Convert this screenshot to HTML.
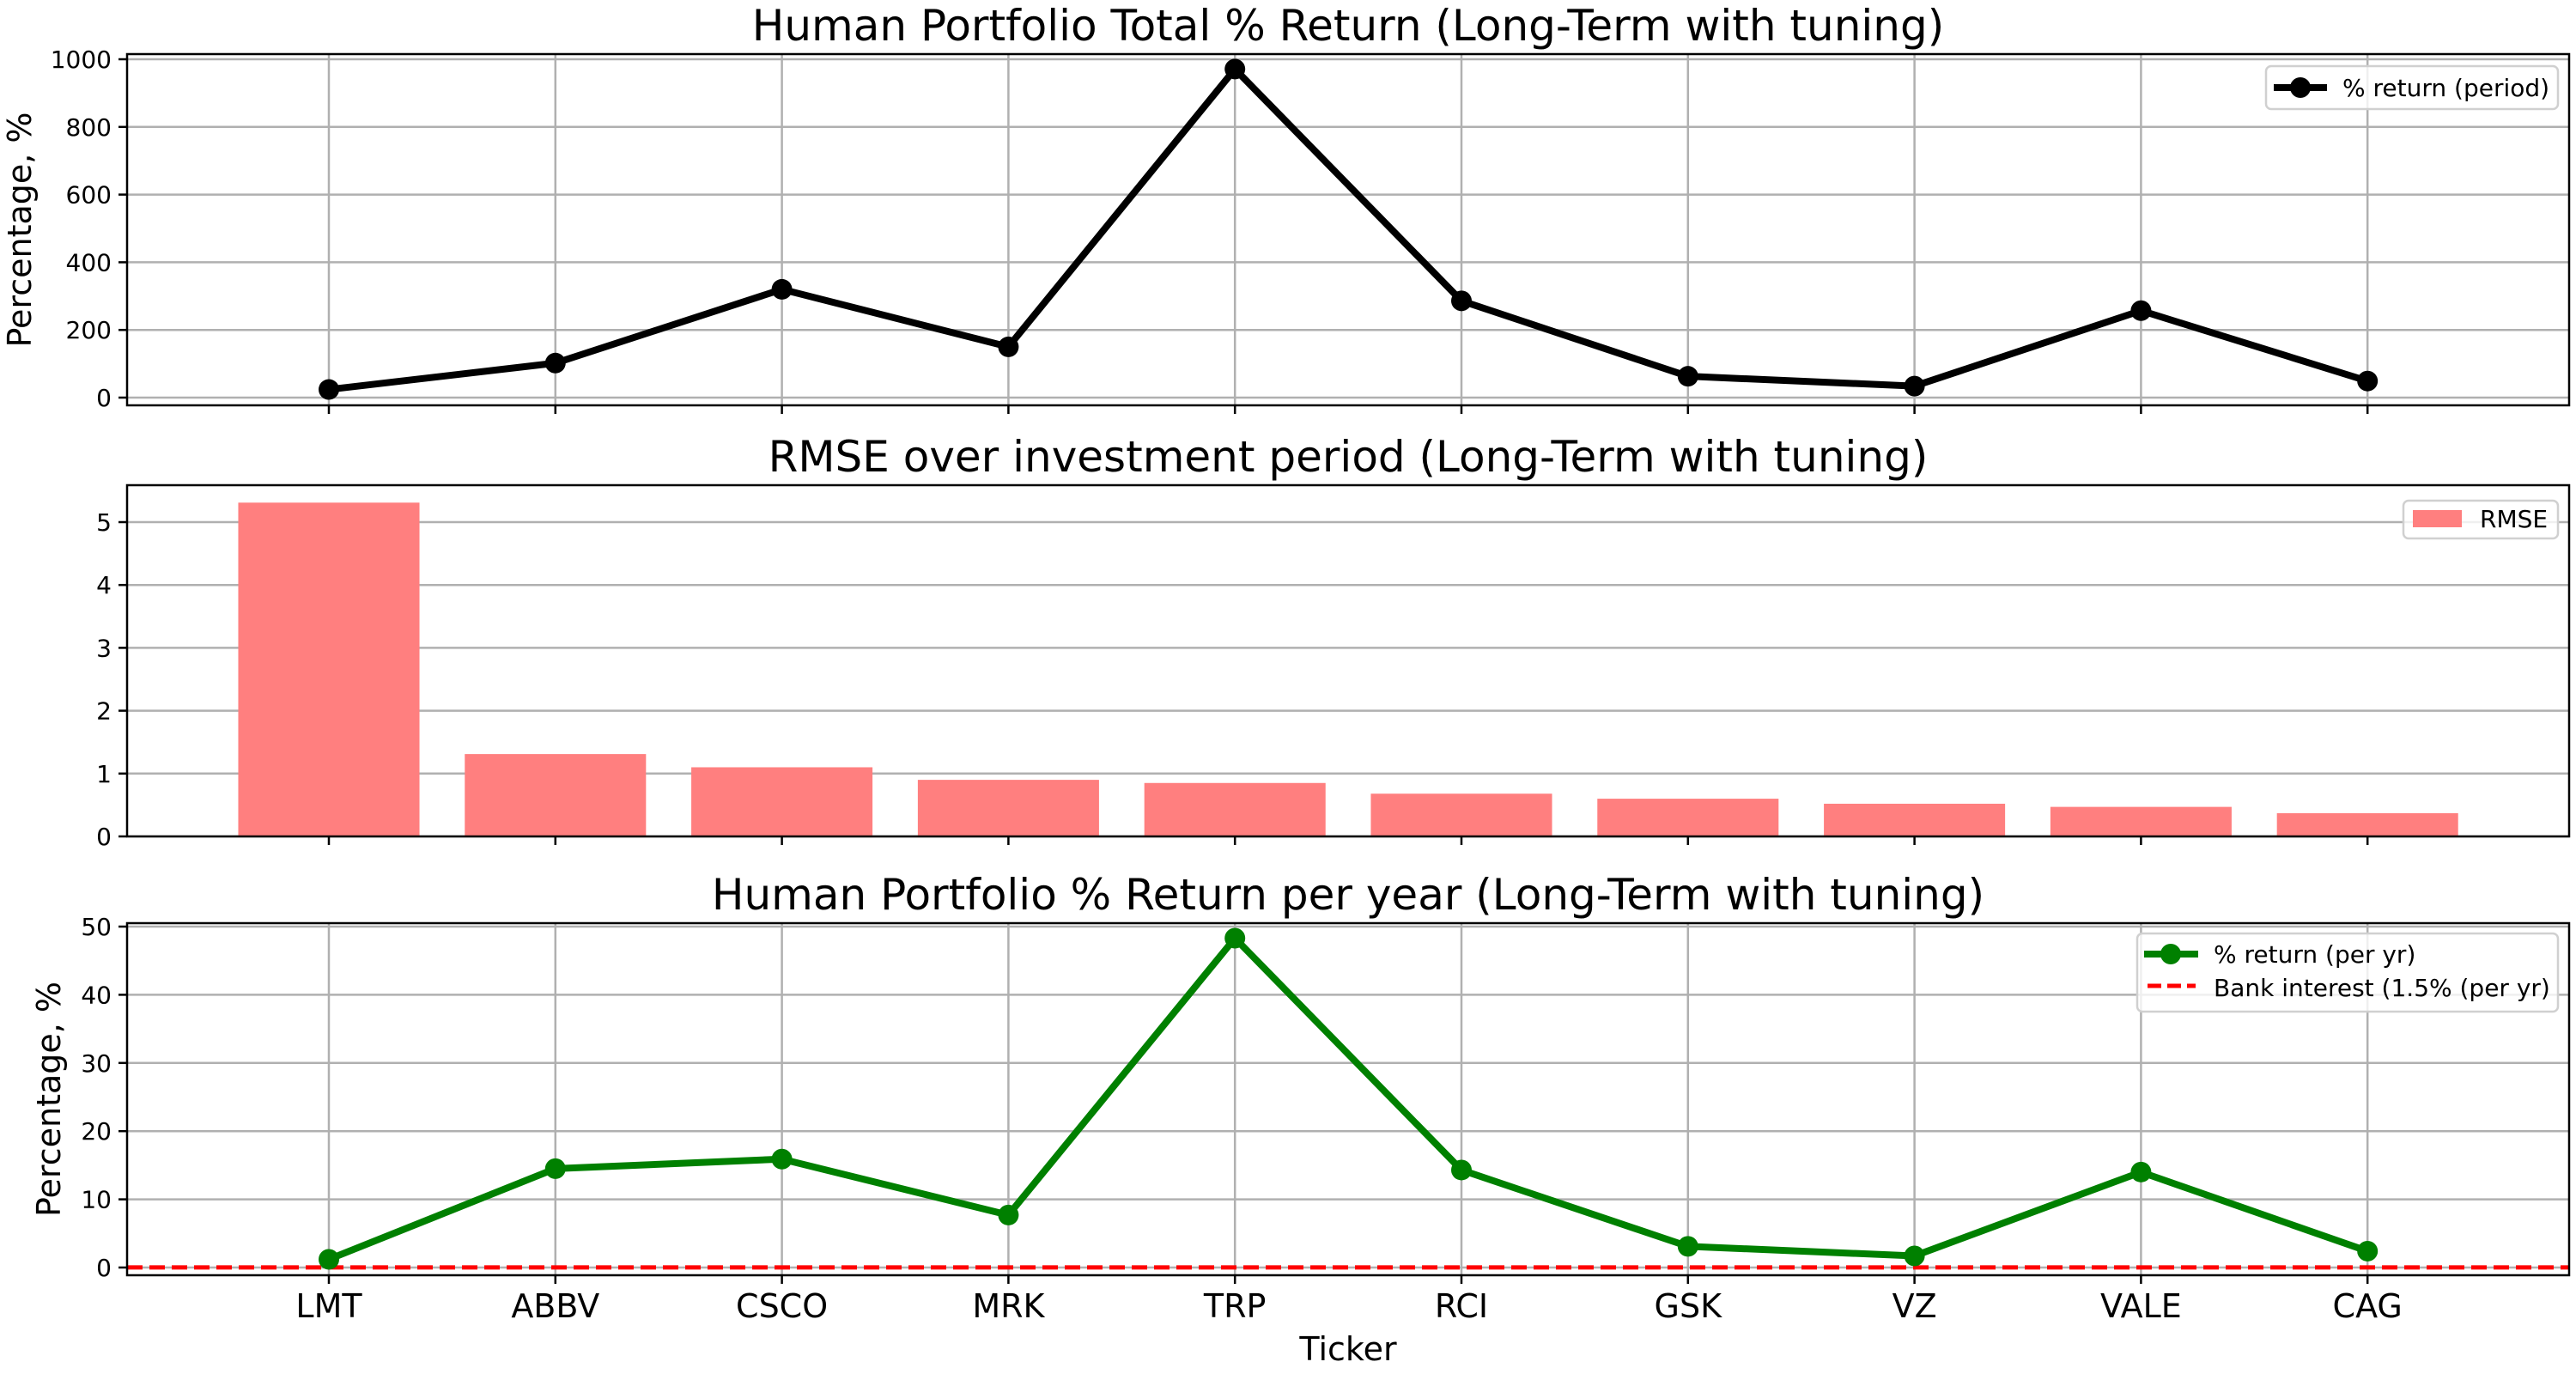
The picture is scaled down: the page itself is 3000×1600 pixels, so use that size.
<!DOCTYPE html>
<html><head><meta charset="utf-8"><style>
html,body{margin:0;padding:0;background:#fff;}
svg{display:block;font-family:"DejaVu Sans","Liberation Sans",sans-serif;}
</style></head><body>
<svg id="chart" width="3000" height="1600" viewBox="0 0 3000 1600" xmlns="http://www.w3.org/2000/svg"></svg>
<script>
const tickers = ["LMT","ABBV","CSCO","MRK","TRP","RCI","GSK","VZ","VALE","CAG"];
const totalReturn = [24,102,320,150,971,286,63,34,257,49];
const rmseValues = [5.31,1.31,1.10,0.90,0.85,0.68,0.60,0.52,0.47,0.37];
const yearReturn = [1.2,14.5,15.9,7.7,48.3,14.3,3.1,1.7,14.0,2.4];
const bankInterest = 0.015;
const ticks1 = [0,200,400,600,800,1000];
const ticks2 = [0,1,2,3,4,5];
const ticks3 = [0,10,20,30,40,50];

const NS = "http://www.w3.org/2000/svg";
const svg = document.getElementById("chart");
function el(tag, attrs, parent){
  const e = document.createElementNS(NS, tag);
  for (const k in attrs) e.setAttribute(k, attrs[k]);
  (parent||svg).appendChild(e);
  return e;
}
const L = 148, R = 2992;
const xStep = 263.8, x0 = 383;
function xs(i){ return x0 + i*xStep; }

const panels = [
  {top:63, bottom:472, y0:463, yTop:69, vTop:1000, ticks:ticks1, name:"total-return-panel"},
  {top:565, bottom:974, y0:974, yTop:608, vTop:5, ticks:ticks2, name:"rmse-panel"},
  {top:1075, bottom:1485, y0:1476, yTop:1079, vTop:50, ticks:ticks3, name:"yearly-return-panel"}
];
panels.forEach(p => { p.ys = v => p.y0 - (v/p.vTop)*(p.y0 - p.yTop); });

function drawPanel(p, title, ylabel, vgrid){
  const g = el("g", {});
  
  
  p.ticks.forEach(t => {
    const y = p.ys(t);
    const gl = el("line", {x1:L, x2:R, y1:y, y2:y, stroke:"#b0b0b0", "stroke-width":2.5}, g);
    
    
    const tk = el("line", {x1:L-10, x2:L, y1:y, y2:y, stroke:"#000", "stroke-width":2.5}, g);
    
    
    const tl = el("text", {x:L-18, y:y+10, "text-anchor":"end", "font-size":28}, g);
    
    
    tl.textContent = t;
  });
  tickers.forEach((t,i) => {
    const x = xs(i);
    if (vgrid) {
      const vl = el("line", {x1:x, x2:x, y1:p.top, y2:p.bottom, stroke:"#b0b0b0", "stroke-width":2.5}, g);
      
      
    }
    const xt = el("line", {x1:x, x2:x, y1:p.bottom, y2:p.bottom+10, stroke:"#000", "stroke-width":2.5}, g);
    
    
  });
  const tt = el("text", {x:(L+R)/2, y:p.top-16, "text-anchor":"middle", "font-size":50}, g);
  
  
  tt.textContent = title;
  if (ylabel) {
    const cx = ylabel.x, cy = (p.top+p.bottom)/2;
    const yl = el("text", {x:cx, y:cy, "text-anchor":"middle", "font-size":38, transform:`rotate(-90 ${cx} ${cy})`}, g);
    
    
    yl.textContent = "Percentage, %";
  }
  return g;
}
function frame(p, g){
  const f = el("rect", {x:L, y:p.top, width:R-L, height:p.bottom-p.top, fill:"none", stroke:"#000", "stroke-width":2.5}, g);
  
  
}

const g1 = drawPanel(panels[0], "Human Portfolio Total % Return (Long-Term with tuning)", {x:36}, true);
const p1 = panels[0];
const line1 = el("polyline", {points: totalReturn.map((v,i)=>`${xs(i)},${p1.ys(v)}`).join(" "), fill:"none", stroke:"#000", "stroke-width":8, "stroke-linejoin":"round"}, g1);


totalReturn.forEach((v,i) => {
  const c = el("circle", {cx:xs(i), cy:p1.ys(v), r:12, fill:"#000"}, g1);
  
  
});
frame(p1, g1);

const g2 = drawPanel(panels[1], "RMSE over investment period (Long-Term with tuning)", null, false);
const p2 = panels[1];
const bw = xStep*0.8;
rmseValues.forEach((v,i) => {
  const b = el("rect", {x:xs(i)-bw/2, y:p2.ys(v), width:bw, height:p2.y0-p2.ys(v), fill:"#ff7f7f"}, g2);
  
  
});
frame(p2, g2);

const g3 = drawPanel(panels[2], "Human Portfolio % Return per year (Long-Term with tuning)", {x:70}, true);
const p3 = panels[2];
const bank = el("line", {x1:L, x2:R, y1:p3.ys(bankInterest), y2:p3.ys(bankInterest), stroke:"#ff0000", "stroke-width":5, "stroke-dasharray":"18 8"}, g3);


const line3 = el("polyline", {points: yearReturn.map((v,i)=>`${xs(i)},${p3.ys(v)}`).join(" "), fill:"none", stroke:"#008000", "stroke-width":8, "stroke-linejoin":"round"}, g3);


yearReturn.forEach((v,i) => {
  const c = el("circle", {cx:xs(i), cy:p3.ys(v), r:12, fill:"#008000"}, g3);
  
  
});
frame(p3, g3);
tickers.forEach((t,i) => {
  const tl = el("text", {x:xs(i), y:1534, "text-anchor":"middle", "font-size":38}, g3);
  
  
  tl.textContent = t;
});
const xt = el("text", {x:(L+R)/2, y:1584, "text-anchor":"middle", "font-size":38}, g3);


xt.textContent = "Ticker";

function legendBox(x,y,w,h){
  const r = el("rect", {x:x, y:y, width:w, height:h, rx:6, fill:"#fff", "fill-opacity":0.8, stroke:"#d0d0d0", "stroke-width":2.5});
  
  
}
legendBox(2639,77,340,50);
const lg1 = el("g", {});


el("line", {x1:2648, x2:2710, y1:102, y2:102, stroke:"#000", "stroke-width":8}, lg1);
el("circle", {cx:2679, cy:102, r:12, fill:"#000"}, lg1);
const lt1 = el("text", {x:2728, y:112, "font-size":28}, lg1);
lt1.textContent = "% return (period)";

legendBox(2799,583,180,44);
const lg2 = el("g", {});


el("rect", {x:2810, y:594, width:57, height:20, fill:"#ff7f7f"}, lg2);
const lt2 = el("text", {x:2888, y:614, "font-size":28}, lg2);
lt2.textContent = "RMSE";

legendBox(2489,1087,490,91);
const lg3 = el("g", {});


el("line", {x1:2497, x2:2560, y1:1111, y2:1111, stroke:"#008000", "stroke-width":8}, lg3);
el("circle", {cx:2528, cy:1111, r:12, fill:"#008000"}, lg3);
const lt3 = el("text", {x:2578, y:1121, "font-size":28}, lg3);
lt3.textContent = "% return (per yr)";
const lg4 = el("g", {});


el("line", {x1:2501, x2:2557, y1:1148, y2:1148, stroke:"#ff0000", "stroke-width":5, "stroke-dasharray":"16 7"}, lg4);
const lt4 = el("text", {x:2578, y:1160, "font-size":28}, lg4);
lt4.textContent = "Bank interest (1.5% (per yr)";
</script>
</body></html>
